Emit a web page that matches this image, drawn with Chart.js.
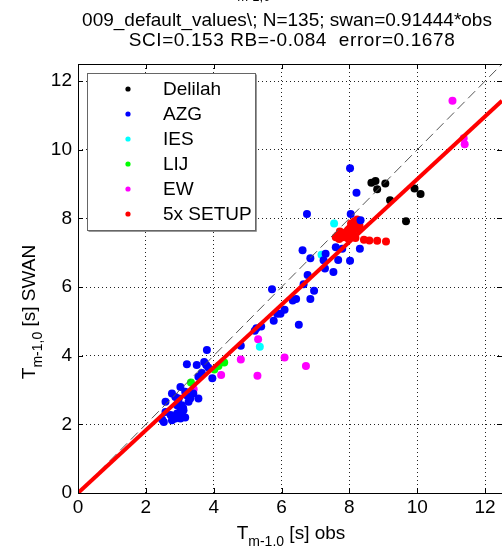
<!DOCTYPE html>
<html>
<head>
<meta charset="utf-8">
<script src="https://cdn.jsdelivr.net/npm/chart.js@4.4.1/dist/chart.umd.min.js"></script>
<style>
html, body { margin: 0; padding: 0; overflow: hidden; background: #fff; }
#wrap { width: 506px; height: 549px; }
</style>
</head>
<body>
<div id="wrap"><canvas id="TmChart"></canvas></div>
<script>
// values (Tm-1,0 obs vs SWAN)
const delilahX = [8.65, 8.77, 9.06, 8.82, 9.20, 9.92, 10.10, 9.67];
const delilahY = [9.04, 9.09, 9.02, 8.85, 8.53, 8.87, 8.71, 7.92];

const azgX = [8.02, 8.21, 8.04, 6.75, 8.33, 6.62, 7.60, 7.79, 8.31, 6.85, 7.24, 7.30, 7.67, 8.02, 7.28, 7.53,
              6.77, 6.65, 5.72, 6.96, 6.85, 6.43, 6.33, 6.09, 5.97, 5.87, 5.77, 6.51, 5.40, 5.26, 5.21, 4.80,
              3.80, 3.21, 3.50, 3.72, 3.78, 3.84, 3.96, 3.65, 3.55, 3.02, 3.16, 2.77, 2.87, 2.97, 2.58, 3.31,
              3.55, 3.26, 2.92, 3.06, 3.02, 2.92, 3.06, 2.73, 2.58, 2.87, 3.02, 2.48, 2.53, 2.77, 3.11, 3.16,
              3.40, 3.20, 2.95, 3.10];
const azgY = [9.46, 8.75, 8.13, 8.13, 7.95, 7.07, 7.16, 7.12, 7.12, 6.84, 6.78, 6.97, 6.79, 6.77, 6.54, 6.44,
              6.35, 6.08, 5.94, 5.89, 5.65, 5.65, 5.61, 5.34, 5.22, 5.22, 5.02, 4.90, 4.85, 4.80, 4.73, 4.29,
              4.17, 3.75, 3.73, 3.82, 3.73, 3.66, 3.34, 3.50, 3.39, 3.09, 2.95, 2.90, 2.80, 2.75, 2.66, 2.75,
              2.75, 2.66, 2.56, 2.56, 2.41, 2.32, 2.32, 2.27, 2.36, 2.17, 2.17, 2.14, 2.07, 2.12, 2.41, 2.20,
              2.90, 2.85, 2.62, 2.48];

const iesX = [7.55, 7.18, 5.36];
const iesY = [7.85, 6.94, 4.26];

const lijX = [3.33, 4.02, 4.14, 4.31];
const lijY = [3.22, 3.60, 3.70, 3.80];

const ewX = [11.04, 11.37, 11.40, 5.31, 4.80, 4.22, 5.29, 6.09, 6.72, 3.41];
const ewY = [11.43, 10.34, 10.16, 4.48, 3.89, 3.44, 3.42, 3.95, 3.70, 3.02];

const setupX = [8.23, 8.15, 8.25, 8.10, 8.02, 7.95, 8.20, 7.90, 7.75, 7.65, 7.80, 7.85, 8.00, 8.08, 8.18,
                7.70, 7.95, 8.10, 8.30, 8.43, 8.59, 8.82, 9.08, 7.60, 8.05, 7.72, 7.88, 8.12, 7.98, 8.28];
const setupY = [7.97, 7.92, 7.85, 7.80, 7.72, 7.65, 7.70, 7.55, 7.52, 7.50, 7.45, 7.58, 7.55, 7.48, 7.43,
                7.40, 7.42, 7.60, 7.78, 7.38, 7.36, 7.35, 7.33, 7.45, 7.85, 7.62, 7.48, 7.52, 7.68, 7.90];

const fitSlope = 0.91444;
const axisMax = 12.5;
const tickValues = [0, 2, 4, 6, 8, 10, 12];

const groupLabels = ['Delilah', 'AZG', 'IES', 'LIJ', 'EW', '5x SETUP'];
const groupColors = ['#000000', '#0000ff', '#00ffff', '#00ff00', '#ff00ff', '#ff0000'];
const groupX = [delilahX, azgX, iesX, lijX, ewX, setupX];
const groupY = [delilahY, azgY, iesY, lijY, ewY, setupY];

const FONT = '"Liberation Sans", Arial, sans-serif';

function toPoints(xs, ys) {
    return xs.map((x, i) => ({ x: x, y: ys[i] }));
}

const datasets = groupLabels.map((label, i) => ({
    label: label,
    data: toPoints(groupX[i], groupY[i]),
    backgroundColor: groupColors[i],
    borderWidth: 0,
    pointRadius: 4,
    order: 2 + i
}));
datasets.push({
    label: 'fit',
    type: 'line',
    data: [{ x: 0, y: 0 }, { x: axisMax, y: axisMax * fitSlope }],
    borderColor: '#ff0000',
    borderWidth: 4,
    pointRadius: 0,
    order: 0
});
datasets.push({
    label: '1:1',
    type: 'line',
    data: [{ x: 0, y: 0 }, { x: axisMax, y: axisMax }],
    borderColor: '#555555',
    borderWidth: 1,
    borderDash: [10, 5],
    pointRadius: 0,
    order: 1
});

// draws a "T" with a subscript, centered at cx
function subText(ctx, main, sub, tail, cx, base, size, subSize) {
    ctx.font = size + 'px ' + FONT;
    const w1 = ctx.measureText(main).width;
    const w3 = ctx.measureText(tail).width;
    ctx.font = subSize + 'px ' + FONT;
    const w2 = ctx.measureText(sub).width;
    let x = cx - (w1 + w2 + w3) / 2;
    ctx.textAlign = 'left';
    ctx.textBaseline = 'alphabetic';
    ctx.font = size + 'px ' + FONT;
    ctx.fillText(main, x, base);
    x += w1;
    ctx.font = subSize + 'px ' + FONT;
    ctx.fillText(sub, x, base + 7);
    x += w2;
    ctx.font = size + 'px ' + FONT;
    ctx.fillText(tail, x, base);
}

const decorPlugin = {
    id: 'decor',
    afterDatasetsDraw(chart) {
        const ctx = chart.ctx;
        const a = chart.chartArea;
        const xs = chart.scales.x, ys = chart.scales.y;
        ctx.save();
        // frame + inward ticks
        ctx.strokeStyle = '#000';
        ctx.lineWidth = 1;
        ctx.strokeRect(a.left + 0.5, a.top + 0.5, a.right - a.left, a.bottom - a.top);
        ctx.beginPath();
        tickValues.forEach(v => {
            const px = Math.round(xs.getPixelForValue(v)) + 0.5;
            ctx.moveTo(px, a.bottom); ctx.lineTo(px, a.bottom - 5);
            ctx.moveTo(px, a.top); ctx.lineTo(px, a.top + 5);
            const py = Math.round(ys.getPixelForValue(v)) + 0.5;
            ctx.moveTo(a.left, py); ctx.lineTo(a.left + 5, py);
            ctx.moveTo(a.right, py); ctx.lineTo(a.right - 5, py);
        });
        ctx.stroke();

        // legend box
        const lx = 87, ly = 73, lw = 168, lh = 157;
        ctx.fillStyle = '#fff';
        ctx.fillRect(lx, ly, lw, lh);
        ctx.strokeStyle = '#666';
        ctx.strokeRect(lx + 0.5, ly + 0.5, lw, lh);
        ctx.strokeStyle = '#999';
        ctx.beginPath();
        ctx.moveTo(lx + 1.5, ly + lh + 1.5); ctx.lineTo(lx + lw + 1.5, ly + lh + 1.5); ctx.lineTo(lx + lw + 1.5, ly + 1.5);
        ctx.stroke();
        ctx.font = '19px ' + FONT;
        ctx.textAlign = 'left';
        ctx.textBaseline = 'middle';
        groupLabels.forEach((label, i) => {
            const y = 89 + i * 25;
            ctx.fillStyle = groupColors[i];
            ctx.beginPath();
            ctx.arc(128, y, 2.6, 0, Math.PI * 2);
            ctx.fill();
            ctx.fillStyle = '#000';
            ctx.fillText(label, 163, y + 1);
        });

        // titles
        ctx.fillStyle = '#000';
        subText(ctx, 'T', 'm-1,0', '', 248, -6, 19, 13);
        ctx.font = '19px ' + FONT;
        ctx.textAlign = 'center';
        ctx.textBaseline = 'alphabetic';
        ctx.fillText('009_default_values\\; N=135; swan=0.91444*obs', 287, 26);
        ctx.letterSpacing = '0.6px';
        ctx.fillText('SCI=0.153 RB=-0.084  error=0.1678', 292, 46);
        ctx.letterSpacing = '0px';

        // axis titles
        subText(ctx, 'T', 'm-1.0', ' [s] obs', 291, 539, 19, 14);
        ctx.translate(35, 312);
        ctx.rotate(-Math.PI / 2);
        subText(ctx, 'T', 'm-1,0', ' [s] SWAN', 0, 0, 19, 14);
        ctx.restore();
    }
};

function axisOpts(pos) {
    return {
        type: 'linear',
        position: pos,
        min: 0,
        max: axisMax,
        afterBuildTicks: s => { s.ticks = tickValues.map(v => ({ value: v })); },
        afterFit: s => {
            if (pos === 'left') s.width = 78;
            else s.height = 56;
        },
        ticks: {
            color: '#000',
            font: { family: FONT, size: 19 },
            padding: pos === 'left' ? 6 : 3,
            maxRotation: 0,
            autoSkip: false
        },
        grid: {
            color: c => (c.tick && c.tick.value === 0) ? 'rgba(0,0,0,0)' : '#222',
            lineWidth: 1,
            drawTicks: false
        },
        border: { display: false, dash: [1, 3] }
    };
}

new Chart(document.getElementById('TmChart'), {
    type: 'scatter',
    data: { datasets: datasets },
    options: {
        responsive: true,
        maintainAspectRatio: false,
        animation: false,
        devicePixelRatio: 1,
        layout: { padding: { top: 64, left: 0, right: 0, bottom: 0 } },
        plugins: { legend: { display: false }, tooltip: { enabled: false }, title: { display: false } },
        scales: { x: axisOpts('bottom'), y: axisOpts('left') }
    },
    plugins: [decorPlugin]
});
</script>
</body>
</html>
